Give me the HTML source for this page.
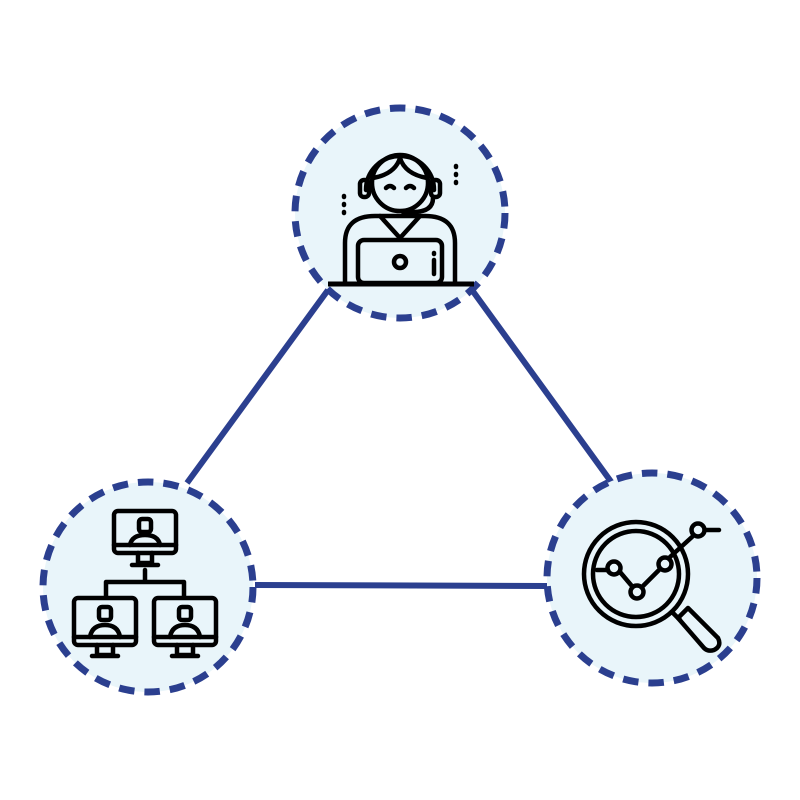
<!DOCTYPE html>
<html><head><style>body{margin:0;background:#fff}svg{display:block}</style></head><body>
<svg width="800" height="800" viewBox="0 0 800 800" xmlns="http://www.w3.org/2000/svg">
<g stroke="#2b3f8f" stroke-width="6" fill="none">
<line x1="328" y1="290" x2="187" y2="483"/>
<line x1="472" y1="290" x2="612" y2="483"/>
<line x1="255" y1="585" x2="547" y2="586"/>
</g>
<g fill="#e9f5fa" stroke="#2b3f8f" stroke-width="7" stroke-dasharray="15.5 10">
<circle cx="400" cy="213" r="105"/>
<circle cx="148" cy="587" r="105"/>
<circle cx="652" cy="578" r="105"/>
</g>
<!-- top icon -->
<g stroke="#000" stroke-width="4.5" fill="none" stroke-linecap="round" stroke-linejoin="round">
<circle cx="400" cy="183" r="28"/>
<path d="M366 190 A34 34 0 0 1 434 190"/>
<rect x="360" y="180" width="9" height="17" rx="4"/>
<rect x="431" y="180" width="9" height="17" rx="4"/>
<path d="M373 178 Q395 174 400 158 Q405 174 427 178"/>
<path d="M386 188 q4 -4 8 0 M406 188 q4 -4 8 0"/>
<path d="M433 198 q0 14 -20 14 h-10"/>
<path d="M345 283 v-40 q0 -27 30 -27 h50 q30 0 30 27 v40"/>
<path d="M380 216 l20 22 l20 -22"/>
<rect x="358" y="240" width="84" height="43" rx="6"/>
<circle cx="400" cy="262" r="6"/>
<path d="M434 260 v14 M434 253 v1"/>
<path d="M344 196 v1 M344 204 v1 M344 212 v1 M456 166 v1 M456 174 v1 M456 182 v1"/>
</g>
<line x1="328" y1="284" x2="474" y2="284" stroke="#000" stroke-width="5"/>
<!-- left icon -->
<g stroke="#000" stroke-width="4.5" fill="none" stroke-linecap="round" stroke-linejoin="round">
<rect x="114" y="511" width="62" height="42" rx="4"/>
<line x1="114" y1="545" x2="176" y2="545"/>
<path d="M138 553 v10 h14 v-10 M132 565 h26"/>
<rect x="139" y="519" width="12" height="13" rx="3"/>
<path d="M130 545 q2 -10 15 -10 q13 0 15 10"/>
<path d="M106 596 v-14 h78 v14 M145 582 v-12"/>
<rect x="74" y="598" width="62" height="47" rx="4"/>
<line x1="74" y1="637" x2="136" y2="637"/>
<path d="M97 645 v10 h16 v-10 M92 656 h26"/>
<rect x="99" y="607" width="12" height="13" rx="3"/>
<path d="M90 637 q2 -12 15 -12 q13 0 15 12"/>
<rect x="154" y="598" width="62" height="47" rx="4"/>
<line x1="154" y1="637" x2="216" y2="637"/>
<path d="M177 645 v10 h16 v-10 M172 656 h26"/>
<rect x="179" y="607" width="12" height="13" rx="3"/>
<path d="M170 637 q2 -12 15 -12 q13 0 15 12"/>
</g>
<!-- right icon -->
<g stroke="#000" stroke-width="4.5" fill="none" stroke-linecap="round" stroke-linejoin="round">
<circle cx="636" cy="574" r="52"/>
<circle cx="636" cy="574" r="43"/>
<path d="M672 612 l8 8"/>
<path d="M678 618 l10 -10 l30 30 q4 8 -4 12 q-6 2 -10 -2 z"/>
<path d="M597 570 h11 M620 572 l11 13 M643 586 l16 -16 M670 557 l22 -20 M705 530 h14"/>
<circle cx="614" cy="568" r="6.5"/>
<circle cx="637" cy="592" r="6.5"/>
<circle cx="665" cy="564" r="6.5"/>
<circle cx="698" cy="530" r="6.5"/>
</g>
</svg>
</body></html>
